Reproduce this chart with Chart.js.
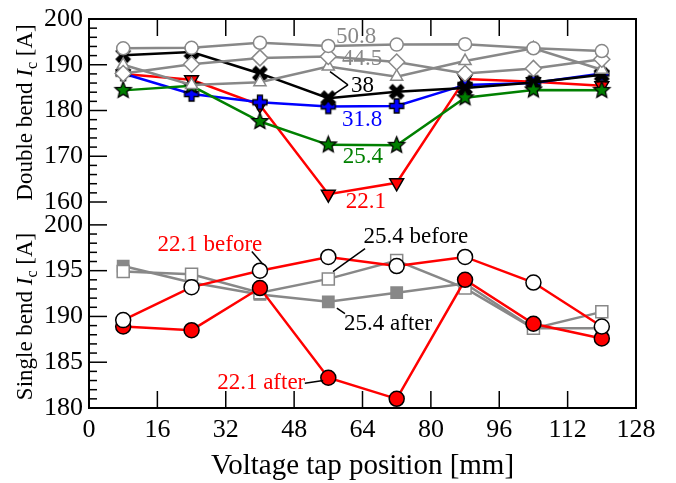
<!DOCTYPE html>
<html>
<head>
<meta charset="utf-8">
<script src="https://cdn.jsdelivr.net/npm/chart.js@4.4.0/dist/chart.umd.min.js"></script>
<style>
  html, body { margin: 0; padding: 0; background: #fff; }
</style>
</head>
<body>
<canvas id="chart" width="676" height="483"></canvas>
<script>
// Datos
const positions = [8, 24, 40, 56, 72, 88, 104, 120];
const xTicks = [0, 16, 32, 48, 64, 80, 96, 112, 128];
const doubleTicks = [160, 170, 180, 190, 200];
const singleTicks = [180, 185, 190, 195, 200];

// Double bend
const double508 = [193.6, 193.7, 194.8, 194.1, 194.4, 194.5, 193.6, 193.0];
const double445 = [188.1, 190.1, 191.5, 191.8, 190.6, 188.1, 189.2, 191.2];
const double38a = [190.0, 185.6, 186.2, 189.6, 187.4, 190.8, 193.6, 188.9];
const double38b = [192.1, 192.8, 188.1, 182.7, 184.1, 184.9, 186.1, 187.8];
const double318 = [188.1, 183.6, 181.8, 180.9, 181.0, 185.6, 186.0, 188.1];
const double254 = [184.4, 185.4, 177.6, 172.5, 172.4, 182.8, 184.5, 184.4];
const double221 = [188.0, 186.7, 181.2, 161.7, 164.2, 186.9, 186.3, 185.4];

// Single bend
const single221Before = [189.6, 193.2, 195.0, 196.5, 195.5, 196.5, 193.7, 188.9];
const single221After = [188.9, 188.5, 193.1, 183.3, 181.0, 194.0, 189.2, 187.6];
const single254Before = [194.9, 194.6, 192.6, 194.1, 196.1, 193.1, 188.7, 190.5];
const single254After = [195.5, 193.7, 192.4, 191.6, 192.6, 193.6, 188.7, 188.7];

const SERIF = '"Liberation Serif", "DejaVu Serif", serif';
const GRAY = '#888888';

const toPoints = arr => arr.map((v, i) => ({ x: positions[i], y: v }));

// Marcadores personalizados
function makeStar(fill, r) {
    const s = Math.ceil(r * 2 + 4), c = document.createElement('canvas');
    c.width = c.height = s;
    const g = c.getContext('2d');
    g.beginPath();
    for (let i = 0; i < 10; i++) {
        const rad = i % 2 ? r * 0.45 : r;
        const a = -Math.PI / 2 + i * Math.PI / 5;
        g.lineTo(s / 2 + rad * Math.cos(a), s / 2 + rad * Math.sin(a));
    }
    g.closePath();
    g.fillStyle = fill; g.fill();
    g.strokeStyle = '#000'; g.lineWidth = 1.3; g.stroke();
    return c;
}

function makePlus(fill, r, w) {
    const s = Math.ceil(r * 2 + 4), c = document.createElement('canvas');
    c.width = c.height = s;
    const g = c.getContext('2d');
    const m = s / 2, h = w / 2;
    g.beginPath();
    g.moveTo(m - h, m - r); g.lineTo(m + h, m - r); g.lineTo(m + h, m - h);
    g.lineTo(m + r, m - h); g.lineTo(m + r, m + h); g.lineTo(m + h, m + h);
    g.lineTo(m + h, m + r); g.lineTo(m - h, m + r); g.lineTo(m - h, m + h);
    g.lineTo(m - r, m + h); g.lineTo(m - r, m - h); g.lineTo(m - h, m - h);
    g.closePath();
    g.fillStyle = fill; g.fill();
    g.strokeStyle = '#000'; g.lineWidth = 1.3; g.stroke();
    return c;
}

function makeCross(r) {
    const s = Math.ceil(r * 2 + 8), c = document.createElement('canvas');
    c.width = c.height = s;
    const g = c.getContext('2d');
    const m = s / 2;
    g.strokeStyle = '#000'; g.lineWidth = 5.5; g.lineCap = 'butt';
    g.beginPath();
    g.moveTo(m - r, m - r); g.lineTo(m + r, m + r);
    g.moveTo(m + r, m - r); g.lineTo(m - r, m + r);
    g.stroke();
    return c;
}

const starIcon = makeStar('#008000', 8.5);
const plusIcon = makePlus('#0000ff', 7, 5);
const crossIcon = makeCross(6);

function series(data, axis, color, style, extra) {
    return Object.assign({
        data: toPoints(data),
        yAxisID: axis,
        borderColor: color,
        borderWidth: 2.5,
        pointStyle: style,
        pointRadius: 7,
        pointBorderWidth: 1.5,
        pointBorderColor: color,
        pointBackgroundColor: '#fff',
        tension: 0,
        fill: false
    }, extra || {});
}

const datasets = [
    // Single bend
    series(single221Before, 'yBot', '#ff0000', 'circle', { pointRadius: 7.5, pointBorderColor: '#000' }),
    series(single221After, 'yBot', '#ff0000', 'circle', { pointRadius: 7.5, pointBorderColor: '#000', pointBackgroundColor: '#ff0000' }),
    series(single254Before, 'yBot', GRAY, 'rect', { pointRadius: 8.5 }),
    series(single254After, 'yBot', GRAY, 'rect', { pointRadius: 8, pointBackgroundColor: GRAY }),
    // Double bend
    series(double508, 'yTop', GRAY, 'circle', { pointRadius: 6.5 }),
    series(double445, 'yTop', GRAY, 'rectRot', { pointRadius: 8 }),
    series(double38a, 'yTop', GRAY, 'triangle', { pointRadius: 7 }),
    series(double254, 'yTop', '#008000', starIcon),
    series(double38b, 'yTop', '#000000', crossIcon),
    series(double318, 'yTop', '#0000ff', plusIcon),
    series(double221, 'yTop', '#ff0000', 'triangle', { pointRadius: 8, pointRotation: 180, pointBorderColor: '#000', pointBackgroundColor: '#ff0000' })
];

// Etiquetas en coordenadas de datos
const notes = [
    { axis: 'yTop', text: '50.8', x: 62.5, y: 196.1, color: GRAY },
    { axis: 'yTop', text: '44.5', x: 63.9, y: 191.2, color: GRAY },
    { axis: 'yTop', text: '38', x: 64.0, y: 185.3, color: '#000' },
    { axis: 'yTop', text: '31.8', x: 63.9, y: 178.0, color: '#0000ff' },
    { axis: 'yTop', text: '25.4', x: 64.1, y: 169.8, color: '#008000' },
    { axis: 'yTop', text: '22.1', x: 64.8, y: 160.0, color: '#ff0000' },
    { axis: 'yBot', text: '22.1 before', x: 28.3, y: 197.8, color: '#ff0000' },
    { axis: 'yBot', text: '25.4 before', x: 76.5, y: 198.7, color: '#000' },
    { axis: 'yBot', text: '25.4 after', x: 70.0, y: 189.2, color: '#000' },
    { axis: 'yBot', text: '22.1 after', x: 40.3, y: 182.7, color: '#ff0000' }
];
const leaders = [
    { axis: 'yTop', from: [60.6, 185.6], to: [56.4, 188.5] },
    { axis: 'yTop', from: [60.6, 185.6], to: [57.1, 183.4] },
    { axis: 'yBot', from: [38.1, 197.1], to: [40.7, 195.7] },
    { axis: 'yBot', from: [64.6, 197.4], to: [57.1, 194.9] },
    { axis: 'yBot', from: [58.0, 190.9], to: [59.9, 190.3] },
    { axis: 'yBot', from: [50.5, 182.7], to: [54.8, 183.0] }
];

function line(ctx, x1, y1, x2, y2) {
    ctx.beginPath(); ctx.moveTo(x1, y1); ctx.lineTo(x2, y2); ctx.stroke();
}

function drawYTitle(ctx, cx, cy, pre) {
    const fN = '23px ' + SERIF, fI = 'italic 23px ' + SERIF, fS = '16px ' + SERIF;
    const parts = [[pre, fN, 0], ['I', fI, 0], ['c', fS, 5], [' [A]', fN, 0]];
    ctx.save();
    ctx.translate(cx, cy);
    ctx.rotate(-Math.PI / 2);
    ctx.fillStyle = '#000';
    ctx.textBaseline = 'alphabetic';
    ctx.textAlign = 'left';
    let total = 0;
    parts.forEach(p => { ctx.font = p[1]; total += ctx.measureText(p[0]).width; });
    let x = -total / 2;
    parts.forEach(p => {
        ctx.font = p[1];
        ctx.fillText(p[0], x, 7 + p[2]);
        x += ctx.measureText(p[0]).width;
    });
    ctx.restore();
}

const framePlugin = {
    id: 'frame',
    beforeDatasetsDraw(chart) {
        const { ctx, chartArea: a, scales } = chart;
        ctx.save();
        ctx.strokeStyle = '#000';
        ctx.lineWidth = 2;
        ctx.strokeRect(a.left, a.top, a.right - a.left, a.bottom - a.top);
        ctx.lineWidth = 1.5;
        const top = scales.yTop, bot = scales.yBot;
        xTicks.forEach(v => {
            const px = scales.x.getPixelForValue(v);
            line(ctx, px, a.top, px, a.top + 17);
            line(ctx, px, a.bottom, px, a.bottom - 17);
        });
        for (let v = 160; v <= 200; v += 2) {
            const py = top.getPixelForValue(v);
            line(ctx, a.left, py, a.left + (v % 10 === 0 ? 18 : 8), py);
        }
        for (let v = 180; v <= 200; v += 1) {
            const py = bot.getPixelForValue(v);
            line(ctx, a.left, py, a.left + (v % 5 === 0 ? 18 : 8), py);
        }
        ctx.restore();
        drawYTitle(ctx, 25, (top.top + top.getPixelForValue(160)) / 2 + 2, 'Double bend ');
        drawYTitle(ctx, 25, (bot.top + bot.bottom) / 2, 'Single bend ');
    },
    afterDatasetsDraw(chart) {
        const { ctx, scales } = chart;
        ctx.save();
        ctx.lineWidth = 1.5;
        ctx.strokeStyle = '#000';
        leaders.forEach(l => {
            const ys = scales[l.axis];
            line(ctx, scales.x.getPixelForValue(l.from[0]), ys.getPixelForValue(l.from[1]),
                scales.x.getPixelForValue(l.to[0]), ys.getPixelForValue(l.to[1]));
        });
        ctx.font = '23px ' + SERIF;
        ctx.textAlign = 'center';
        ctx.textBaseline = 'middle';
        notes.forEach(n => {
            ctx.fillStyle = n.color;
            ctx.fillText(n.text, scales.x.getPixelForValue(n.x), scales[n.axis].getPixelForValue(n.y));
        });
        ctx.restore();
    }
};

const tickFont = { family: SERIF, size: 26, lineHeight: 1 };

const chart = new Chart(document.getElementById('chart').getContext('2d'), {
    type: 'line',
    data: { datasets: datasets },
    options: {
        responsive: false,
        animation: false,
        layout: { padding: { top: 15, right: 40, bottom: 0, left: 0 } },
        plugins: { legend: { display: false }, tooltip: { enabled: false } },
        scales: {
            x: {
                type: 'linear', min: 0, max: 128,
                afterBuildTicks: s => { s.ticks = xTicks.map(v => ({ value: v })); },
                afterFit: s => { s.height = 75; },
                ticks: { font: tickFont, color: '#000', padding: 9, maxRotation: 0, autoSkip: false },
                grid: { display: false, drawTicks: false },
                border: { display: false },
                title: { display: true, text: 'Voltage tap position [mm]', color: '#000',
                    font: { family: SERIF, size: 29, lineHeight: 1 }, padding: { top: 0, bottom: 2 } }
            },
            yBot: {
                type: 'linear', position: 'left', stack: 'ic', stackWeight: 185,
                min: 180, max: 200,
                afterBuildTicks: s => { s.ticks = singleTicks.map(v => ({ value: v })); },
                afterFit: s => { s.width = 89; },
                ticks: { font: tickFont, color: '#000', padding: 6, autoSkip: false },
                grid: { display: false, drawTicks: false },
                border: { display: false }
            },
            yTop: {
                type: 'linear', position: 'left', stack: 'ic', stackWeight: 208,
                min: 155, max: 200,
                afterBuildTicks: s => { s.ticks = doubleTicks.map(v => ({ value: v })); },
                afterFit: s => { s.width = 89; },
                ticks: { font: tickFont, color: '#000', padding: 6, autoSkip: false },
                grid: { display: false, drawTicks: false },
                border: { display: false }
            }
        }
    },
    plugins: [framePlugin]
});
</script>
</body>
</html>
